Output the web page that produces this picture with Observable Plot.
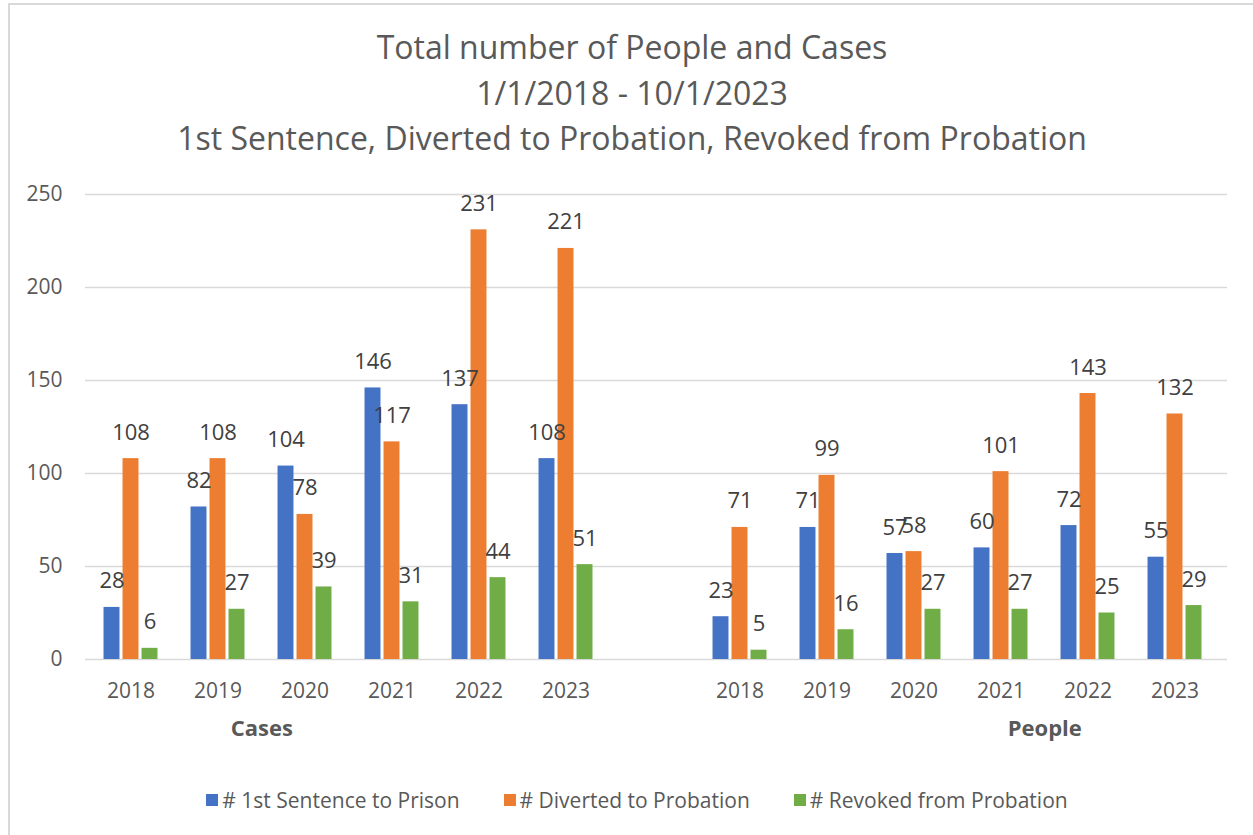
<!DOCTYPE html>
<html>
<head>
<meta charset="utf-8">
<script src="https://cdn.jsdelivr.net/npm/d3@7"></script>
<script src="https://cdn.jsdelivr.net/npm/@observablehq/plot@0.6"></script>
<style>
  html, body { margin: 0; padding: 0; background: #fff; }
  body { width: 1253px; height: 835px; position: relative; overflow: hidden; font-family: "Open Sans", sans-serif; }
  #frame { position: absolute; left: 8px; top: 3px; width: 1300px; height: 900px;
           border-left: 2px solid #d9d9d9; border-top: 2px solid #d9d9d9; box-sizing: border-box; }
  .title { position: absolute; left: 0; width: 1264px; text-align: center; color: #595959;
           font-size: 32px; line-height: 1; white-space: nowrap; }
  #chart { position: absolute; left: 0; top: 170px; }
  #legend { position: absolute; top: 786px; left: 0; width: 1274px; display: flex; justify-content: center;
            gap: 44px; color: #595959; font-size: 21px; }
  #legend .item { display: flex; align-items: center; gap: 4px; }
  #legend .sw { width: 12px; height: 12px; display: inline-block; }
</style>
</head>
<body>
<div id="frame"></div>
<div class="title" style="top:31px">Total number of People and Cases</div>
<div class="title" style="top:77px">1/1/2018 - 10/1/2023</div>
<div class="title" style="top:122px">1st Sentence, Diverted to Probation, Revoked from Probation</div>
<div id="chart"></div>
<div id="legend"></div>
<script>
// Yearly counts for the two groups
const years = ["2018", "2019", "2020", "2021", "2022", "2023"];
const groups = ["Cases", "People"];

const casesPrison   = [28, 82, 104, 146, 137, 108];
const casesDiverted = [108, 108, 78, 117, 231, 221];
const casesRevoked  = [6, 27, 39, 31, 44, 51];

const peoplePrison   = [23, 71, 57, 60, 72, 55];
const peopleDiverted = [71, 99, 58, 101, 143, 132];
const peopleRevoked  = [5, 16, 27, 27, 25, 29];

const seriesNames = ["# 1st Sentence to Prison", "# Diverted to Probation", "# Revoked from Probation"];
const seriesColors = ["#4472C4", "#ED7D31", "#70AD47"];
const yTicks = [0, 50, 100, 150, 200, 250];

// Category slots: six years per group, with an empty slot separating the groups
const slots = [
  ...years.map(y => `Cases ${y}`),
  "gap",
  ...years.map(y => `People ${y}`)
];

const values = {
  Cases: [casesPrison, casesDiverted, casesRevoked],
  People: [peoplePrison, peopleDiverted, peopleRevoked]
};

const rows = [];
for (const g of groups) {
  years.forEach((yr, i) => {
    seriesNames.forEach((s, k) => {
      rows.push({slot: `${g} ${yr}`, series: s, k, value: values[g][k][i]});
    });
  });
}

// Group labels sit on the boundary after the named slot
const groupLabels = [
  {label: "Cases", after: "Cases 2019"},
  {label: "People", after: "People 2021"}
];

const width = 1253, height = 580;
const marginLeft = 83, marginRight = 32, marginTop = 24, marginBottom = 91;
const step = (width - marginLeft - marginRight) / slots.length;
const barW = 16.5, barGap = 2.5;
const groupStart = (step - (3 * barW + 2 * barGap)) / 2;

const barMarks = seriesNames.map((s, k) => {
  const left = groupStart + k * (barW + barGap);
  return Plot.barY(rows.filter(d => d.k === k), {
    x: "slot", y: "value", fill: seriesColors[k],
    insetLeft: left, insetRight: step - left - barW
  });
});

const labelMarks = seriesNames.map((s, k) => {
  const center = groupStart + k * (barW + barGap) + barW / 2 - step / 2;
  return Plot.text(rows.filter(d => d.k === k), {
    x: "slot", y: "value", text: d => String(d.value),
    dx: center, dy: -26, fill: "#404040", fontSize: 22
  });
});

const chart = Plot.plot({
  width, height, marginLeft, marginRight, marginTop, marginBottom,
  style: {fontFamily: "Open Sans, sans-serif", fontSize: "21px", color: "#595959", background: "transparent"},
  x: {domain: slots, padding: 0, tickSize: 0, tickPadding: 24,
      tickFormat: d => d === "gap" ? "" : d.split(" ")[1], label: null},
  y: {domain: [0, 250], ticks: yTicks, tickSize: 0, tickPadding: 21, label: null},
  marks: [
    Plot.ruleY(yTicks, {stroke: "#d9d9d9", strokeWidth: 1.5, insetLeft: 2, insetRight: -6}),
    ...barMarks,
    ...labelMarks,
    Plot.text(groupLabels, {
      x: "after", frameAnchor: "bottom", text: "label", dx: step / 2, dy: 76,
      fontWeight: "bold", fontSize: 22, fill: "#595959"
    })
  ]
});
document.getElementById("chart").appendChild(chart);

// Legend
const legend = document.getElementById("legend");
seriesNames.forEach((s, k) => {
  const item = document.createElement("div");
  item.className = "item";
  const sw = document.createElement("span");
  sw.className = "sw";
  sw.style.background = seriesColors[k];
  const tx = document.createElement("span");
  tx.textContent = s;
  item.append(sw, tx);
  legend.appendChild(item);
});
</script>
</body>
</html>
